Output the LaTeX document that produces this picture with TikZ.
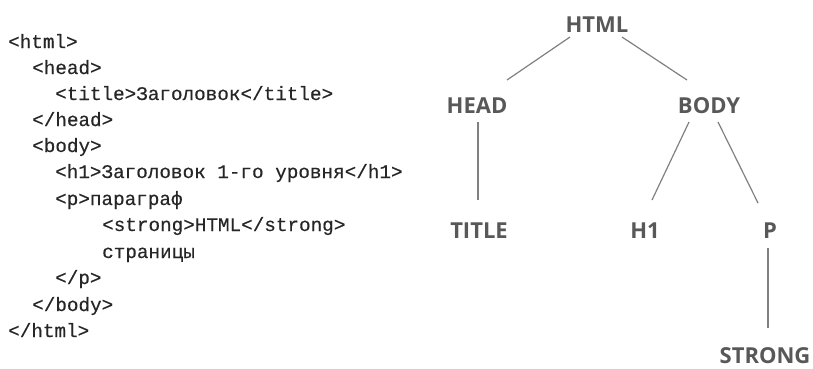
\documentclass[tikz,border=0pt]{standalone}
\usepackage{fontspec}
\usetikzlibrary{calc}
\newfontfamily\codefont{Liberation Mono}[FakeBold=0.4]
\newfontfamily\treefont{Open Sans}[BoldFont={Open Sans Bold}]
\definecolor{treegray}{HTML}{585858}
\definecolor{linegray}{HTML}{808080}
\tikzset{
  codeline/.style={anchor=base west, inner sep=0pt, font=\codefont\fontsize{19.3}{20}\selectfont, text=black!85},
  tag/.style={anchor=base, inner sep=0pt, font=\treefont\bfseries\fontsize{22}{24}\selectfont, text=treegray},
  edge/.style={draw=linegray, line width=1.2pt}
}
\begin{document}
\begin{tikzpicture}[x=1pt, y=-1pt]
\useasboundingbox (0,0) rectangle (813,368);
% source listing
\node[codeline] (l1)  at (8,48)    {<html>};
\node[codeline] (l2)  at (32,74)   {<head>};
\node[codeline] (l3)  at (55,100)  {<title>Заголовок</title>};
\node[codeline] (l4)  at (32,126)  {</head>};
\node[codeline] (l5)  at (32,152)  {<body>};
\node[codeline] (l6)  at (55,178)  {<h1>Заголовок 1-го уровня</h1>};
\node[codeline] (l7)  at (55,205)  {<p>параграф};
\node[codeline] (l8)  at (102,231) {<strong>HTML</strong>};
\node[codeline] (l9)  at (102,258) {страницы};
\node[codeline] (l10) at (55,284)  {</p>};
\node[codeline] (l11) at (32,311)  {</body>};
\node[codeline] (l12) at (8,337)   {</html>};
% document tree
\node[tag] (html)   at (597,32)  {HTML};
\node[tag] (head)   at (477,113) {HEAD};
\node[tag] (body)   at (709,113) {BODY};
\node[tag] (title)  at (479,238) {TITLE};
\node[tag] (h1)     at (645,238) {H1};
\node[tag] (p)      at (770,238) {P};
\node[tag] (strong) at (765,363) {STRONG};
\draw[edge] ($(html.base)+(-27,5)$) -- ($(head.base)+(30,-33)$);
\draw[edge] ($(html.base)+(25,5)$)  -- ($(body.base)+(-22,-33)$);
\draw[edge] ($(head.base)+(1,9)$)   -- ($(title.base)+(-1,-38)$);
\draw[edge] ($(body.base)+(-20,9)$) -- ($(h1.base)+(7,-38)$);
\draw[edge] ($(body.base)+(9,9)$)   -- ($(p.base)+(-12,-35)$);
\draw[edge] ($(p.base)+(-2,10)$)    -- ($(strong.base)+(3,-35)$);
\end{tikzpicture}
\end{document}
